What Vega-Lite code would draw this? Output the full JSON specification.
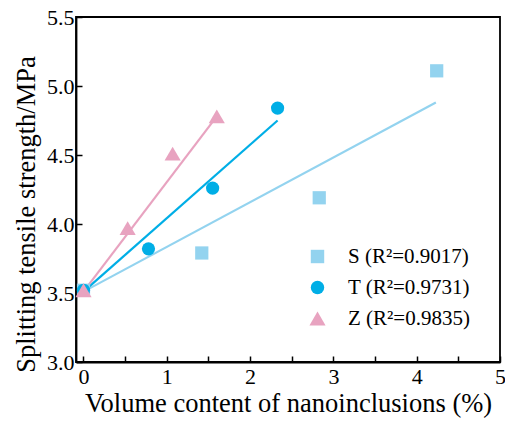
{
  "$schema": "https://vega.github.io/schema/vega-lite/v6.json",
  "width": 424,
  "height": 345,
  "autosize": {"type": "none"},
  "padding": {"left": 76, "top": 17, "right": 5, "bottom": 63},
  "background": "white",
  "config": {
    "view": {"stroke": "black", "strokeWidth": 1.8},
    "font": "Liberation Serif",
    "axis": {"grid": false, "domainColor": "black", "domainWidth": 1.8, "tickColor": "black", "tickWidth": 1.5, "labelColor": "black", "titleColor": "black", "labelFont": "Liberation Serif", "titleFont": "Liberation Serif", "titleFontWeight": "normal", "labelFontSize": 22, "titleFontSize": 26.5}
  },
  "datasets": {
    "pts": [
      {"series": "S (R²=0.9017)", "x": 0, "y": 3.52},
      {"series": "S (R²=0.9017)", "x": 1.42, "y": 3.79},
      {"series": "S (R²=0.9017)", "x": 2.83, "y": 4.19},
      {"series": "S (R²=0.9017)", "x": 4.24, "y": 5.11},
      {"series": "T (R²=0.9731)", "x": 0, "y": 3.52},
      {"series": "T (R²=0.9731)", "x": 0.78, "y": 3.82},
      {"series": "T (R²=0.9731)", "x": 1.55, "y": 4.26},
      {"series": "T (R²=0.9731)", "x": 2.33, "y": 4.84},
      {"series": "Z (R²=0.9835)", "x": 0, "y": 3.52},
      {"series": "Z (R²=0.9835)", "x": 0.53, "y": 3.97},
      {"series": "Z (R²=0.9835)", "x": 1.07, "y": 4.51},
      {"series": "Z (R²=0.9835)", "x": 1.6, "y": 4.78}
    ],
    "fits": [
      {"series": "S (R²=0.9017)", "x": 0, "y": 3.51},
      {"series": "S (R²=0.9017)", "x": 4.23, "y": 4.88},
      {"series": "T (R²=0.9731)", "x": 0, "y": 3.51},
      {"series": "T (R²=0.9731)", "x": 2.33, "y": 4.75},
      {"series": "Z (R²=0.9835)", "x": 0, "y": 3.51},
      {"series": "Z (R²=0.9835)", "x": 1.6, "y": 4.78}
    ]
  },
  "layer": [
    {
      "data": {"name": "fits"},
      "mark": {"type": "line", "strokeWidth": 2.2},
      "encoding": {
        "x": {"field": "x", "type": "quantitative"},
        "y": {"field": "y", "type": "quantitative"},
        "detail": {"field": "series"},
        "color": {"field": "series", "type": "nominal"}
      }
    },
    {
      "data": {"name": "pts"},
      "mark": {"type": "point", "filled": true, "opacity": 1},
      "encoding": {
        "x": {"field": "x", "type": "quantitative",
          "scale": {"domain": [-0.09, 5.0], "nice": false, "zero": false},
          "axis": {"title": "Volume content of nanoinclusions (%)", "values": [0, 0.5, 1, 1.5, 2, 2.5, 3, 3.5, 4, 4.5, 5], "labelExpr": "datum.value % 1 === 0 ? format(datum.value, 'd') : ''", "labelFlush": false, "labelOverlap": false, "tickSize": -6, "labelPadding": 10, "titlePadding": 3,
            "encode": {"ticks": {"update": {"y2": {"signal": "datum.value % 1 === 0 ? -6 : -3"}}}}}},
        "y": {"field": "y", "type": "quantitative",
          "scale": {"domain": [3.0, 5.5], "nice": false, "zero": false},
          "axis": {"title": "Splitting tensile strength/MPa", "titleY": 197, "values": [3.0, 3.25, 3.5, 3.75, 4.0, 4.25, 4.5, 4.75, 5.0, 5.25, 5.5], "labelExpr": "datum.value * 2 % 1 === 0 ? format(datum.value, '.1f') : ''", "labelFlush": false, "labelOverlap": false, "tickSize": -6, "labelPadding": 8, "titlePadding": 6,
            "encode": {"ticks": {"update": {"x2": {"signal": "datum.value * 2 % 1 === 0 ? 6 : 4"}}}}}},
        "color": {"field": "series", "type": "nominal", "scale": {"domain": ["S (R²=0.9017)", "T (R²=0.9731)", "Z (R²=0.9835)"], "range": ["#93d3ef", "#00aee6", "#e8a3c0"]},
          "legend": {"title": null, "orient": "none", "legendX": 231, "legendY": 229, "labelFont": "Liberation Serif", "labelFontSize": 21, "labelColor": "black", "rowPadding": 9, "labelOffset": 20, "symbolOpacity": 1, "symbolStrokeWidth": 0,
            "encode": {"symbols": {"update": {"size": {"signal": "datum.value === 'Z (R²=0.9835)' ? 260 : 180"}}}}}},
        "shape": {"field": "series", "type": "nominal", "scale": {"domain": ["S (R²=0.9017)", "T (R²=0.9731)", "Z (R²=0.9835)"], "range": ["square", "circle", "triangle-up"]}},
        "size": {"condition": {"test": "datum.series === 'Z (R²=0.9835)'", "value": 260}, "value": 175}
      }
    }
  ]
}
